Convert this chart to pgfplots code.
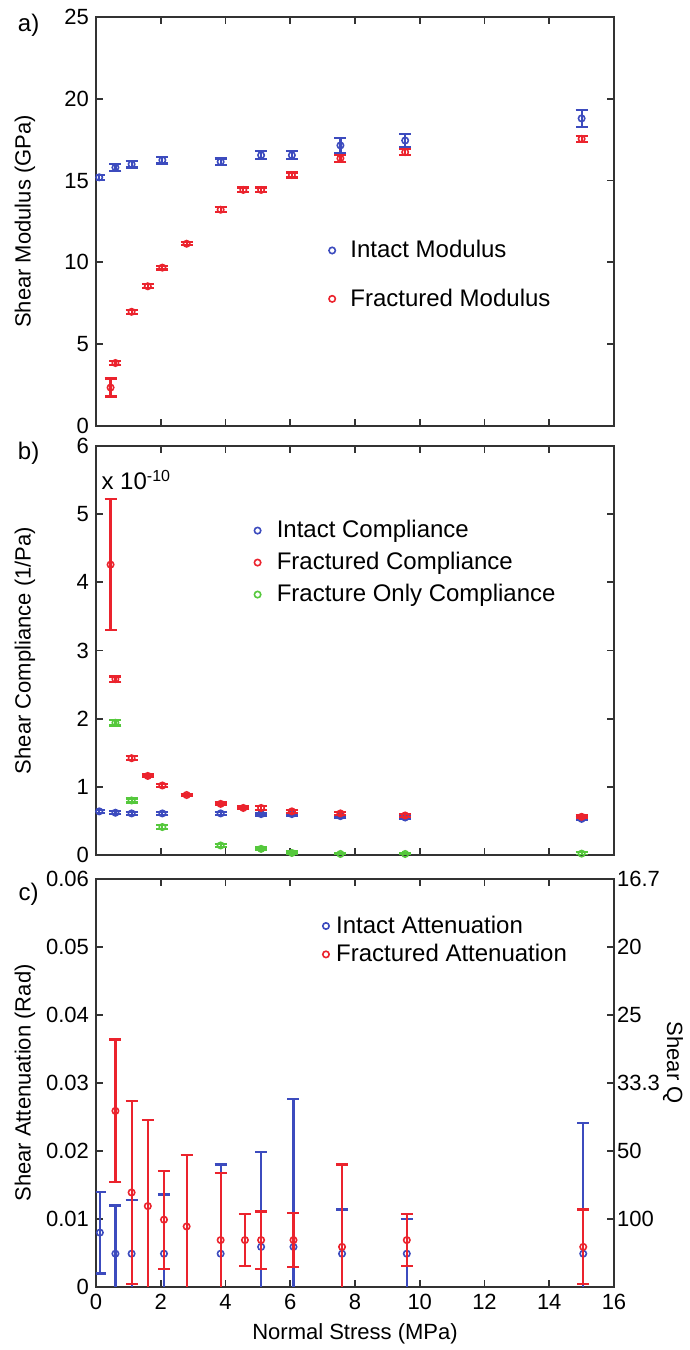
\documentclass[border=0pt]{standalone}
\usepackage{fontspec}
\setmainfont{Liberation Sans}
\usepackage{pgfplots}
\pgfplotsset{compat=1.18}
\definecolor{myblue}{RGB}{60,75,190}
\definecolor{myred}{RGB}{235,35,45}
\definecolor{mygreen}{RGB}{85,200,60}
\pgfplotsset{
  panel/.style={
    width=259pt, scale only axis,
    xmin=0, xmax=16, xtick={0,2,...,16},
    axis line style={line width=1pt, black!80},
    every tick/.style={line width=0.9pt, black!80},
    major tick length=3.5pt,
    tick label style={font=\fontsize{11}{13}\selectfont},
    label style={font=\fontsize{11}{13}\selectfont},
    /pgf/number format/assume math mode=true,
    ylabel style={at={(axis description cs:-0.137,0.5)}, anchor=center},
    legend style={draw=none, fill=none, font=\fontsize{12}{14}\selectfont, inner sep=0pt},
    legend cell align=left,
    clip mode=individual,
    scaled y ticks=false,
  },
  ser/.style={only marks, mark=o, color=#1, draw=#1, mark size=1.6pt, mark options={line width=0.8pt},
    error bars/.cd, y dir=both, y explicit,
    error bar style={line width=1.1pt, draw=#1, solid},
    error mark options={rotate=90, mark size=3pt, line width=1.1pt, draw=#1}},
}
\begin{document}
\begin{tikzpicture}
% ---------------- panel a ----------------
\begin{axis}[panel, at={(0,430.5pt)}, height=204.5pt,
  ymin=0, ymax=25, ytick={0,5,...,25}, xticklabels={},
  ylabel={Shear Modulus (GPa)},
  legend style={at={(rel axis cs:0.449,0.37)}, anchor=west, row sep=10pt, column sep=5.5pt}]
\addplot[ser=myblue] table[x index=0, y index=1, y error index=2] {
0.1  15.2  0.15
0.6  15.8  0.2
1.1  16.0  0.2
2.05 16.25 0.2
3.85 16.15 0.2
5.1  16.55 0.25
6.05 16.55 0.25
7.55 17.15 0.45
9.55 17.45 0.4
15.0 18.8  0.5
};
\addlegendentry{Intact Modulus}
\addplot[ser=myred] table[x index=0, y index=1, y error index=2] {
0.45 2.35  0.55
0.6  3.85  0.12
1.1  6.98  0.12
1.6  8.54  0.12
2.05 9.68  0.12
2.8  11.14 0.1
3.85 13.22 0.15
4.55 14.43 0.15
5.1  14.43 0.15
6.05 15.34 0.15
7.55 16.36 0.2
9.55 16.74 0.2
15.0 17.55 0.2
};
\addlegendentry{Fractured Modulus}
\node[font=\fontsize{12}{14}\selectfont] at (rel axis cs:-0.13,0.98) {a)};
\end{axis}
% ---------------- panel b ----------------
\begin{axis}[panel, at={(0,216pt)}, height=204.5pt,
  ymin=0, ymax=6, ytick={0,1,...,6}, xticklabels={},
  ylabel={Shear Compliance (1/Pa)},
  legend style={at={(rel axis cs:0.305,0.715)}, anchor=west, row sep=1.8pt, column sep=6pt}]
\addplot[ser=myblue] table[x index=0, y index=1, y error index=2] {
0.1  0.64 0.02
0.6  0.62 0.02
1.1  0.61 0.02
2.05 0.61 0.02
3.85 0.61 0.02
5.1  0.60 0.02
6.05 0.60 0.02
7.55 0.57 0.02
9.55 0.55 0.02
15.0 0.53 0.02
};
\addlegendentry{Intact Compliance}
\addplot[ser=myred] table[x index=0, y index=1, y error index=2] {
0.45 4.26 0.965
0.6  2.58 0.04
1.1  1.42 0.03
1.6  1.16 0.02
2.05 1.02 0.02
2.8  0.88 0.02
3.85 0.75 0.02
4.55 0.69 0.02
5.1  0.69 0.03
6.05 0.64 0.02
7.55 0.61 0.02
9.55 0.58 0.02
15.0 0.56 0.02
};
\addlegendentry{Fractured Compliance}
\addplot[ser=mygreen] table[x index=0, y index=1, y error index=2] {
0.6  1.94  0.04
1.1  0.80  0.03
2.05 0.41  0.03
3.85 0.14  0.02
5.1  0.09  0.02
6.05 0.03  0.02
7.55 0.015 0.02
9.55 0.015 0.02
15.0 0.02  0.02
};
\addlegendentry{Fracture Only Compliance}
\node[font=\fontsize{12}{14}\selectfont, anchor=west, inner sep=0pt] at (rel axis cs:0.01,0.917) {x 10\textsuperscript{-10}};
\node[font=\fontsize{12}{14}\selectfont] at (rel axis cs:-0.13,0.983) {b)};
\end{axis}
% ---------------- panel c ----------------
\begin{axis}[panel, at={(0,0)}, height=204pt,
  ymin=0, ymax=0.06, ytick={0,0.01,...,0.06},
  yticklabel style={/pgf/number format/fixed, /pgf/number format/precision=2},
  xlabel={Normal Stress (MPa)},
  ylabel={Shear Attenuation (Rad)},
  legend style={at={(rel axis cs:0.437,0.85)}, anchor=west, row sep=0pt, column sep=1.5pt}]
\addplot[ser=myblue] table[x index=0, y index=1, y error index=2] {
0.12  0.0080 0.0060
0.6   0.0049 0.0071
1.1   0.0049 0.0079
2.1   0.0049 0.0087
3.85  0.0049 0.0131
5.1   0.0059 0.0140
6.1   0.0059 0.0217
7.6   0.0049 0.0065
9.6   0.0049 0.0051
15.05 0.0049 0.0192
};
\addlegendentry{Intact Attenuation}
\addplot[ser=myred] table[x index=0, y index=1, y error index=2] {
0.6   0.0259 0.0105
1.1   0.0139 0.0135
1.6   0.0119 0.0127
2.1   0.0099 0.0072
2.8   0.0089 0.0105
3.85  0.0069 0.0099
4.6   0.0069 0.0038
5.1   0.0069 0.0042
6.1   0.0069 0.0040
7.6   0.0059 0.0121
9.6   0.0069 0.0038
15.05 0.0059 0.0055
};
\addlegendentry{Fractured Attenuation}
\node[font=\fontsize{12}{14}\selectfont] at (rel axis cs:-0.13,0.963) {c)};
\end{axis}
\begin{axis}[width=259pt, height=204pt, scale only axis, at={(0,0)},
  xmin=0, xmax=16, ymin=0, ymax=0.06,
  axis x line=none, axis y line*=right,
  axis line style={line width=1pt, black!80},
  every tick/.style={line width=0.9pt, black!80},
  major tick length=3.5pt,
  ytick={0.01,0.02,0.03,0.04,0.05,0.06},
  yticklabels={100,50,33.3,25,20,16.7},
  yticklabel style={font=\fontsize{11}{13}\selectfont, xshift=-2pt},
  ylabel={Shear Q},
  ylabel style={font=\fontsize{11}{13}\selectfont, rotate=180, at={(axis description cs:1.114,0.55)}, anchor=center},
  scaled y ticks=false]
\end{axis}
\pgfresetboundingbox
\useasboundingbox (-48pt,-31.5pt) rectangle (297pt,643.5pt);
\end{tikzpicture}
\end{document}
